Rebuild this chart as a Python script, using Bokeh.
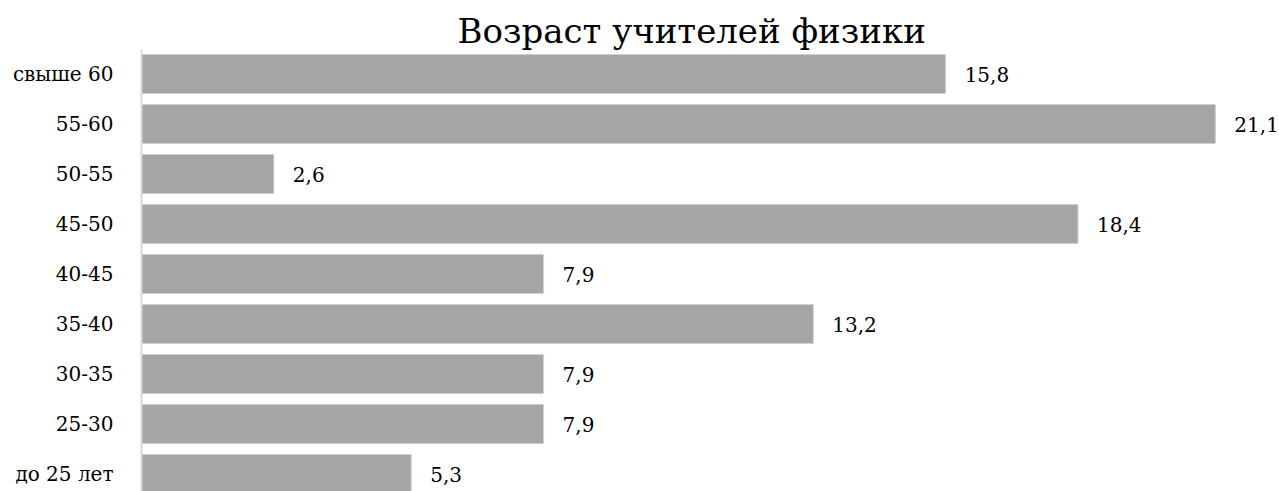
from bokeh.plotting import figure
from bokeh.models import Range1d, FixedTicker, ColumnDataSource
from bokeh.core.properties import value
from bokeh.embed import file_html
from bokeh.resources import INLINE

categories = ["до 25 лет", "25-30", "30-35", "35-40", "40-45", "45-50", "50-55", "55-60", "свыше 60"]
values = [5.3, 7.9, 7.9, 13.2, 7.9, 18.4, 2.6, 21.1, 15.8]
title_text = "Возраст учителей физики"

FONT = "DejaVu Serif"

ypos = list(range(len(categories)))
labels = [f"{v:.1f}".replace(".", ",") for v in values]
src = ColumnDataSource(dict(y=ypos, v=values, lab=labels))

p = figure(width=1279, height=491, output_backend="svg", toolbar_location=None,
           x_range=Range1d(0, 22.36), y_range=Range1d(-0.35, 8.49),
           min_border_left=141, min_border_right=0, min_border_bottom=0, min_border_top=49)

p.hbar(y="y", right="v", left=0, height=0.78, source=src,
       fill_color="#a5a5a5", line_color="#d0d0d0", line_width=1)
p.text(x="v", y="y", text="lab", source=src, x_offset=19,
       text_font=value(FONT), text_font_size="20px", text_color="#000000",
       text_baseline="middle", text_align="left")

p.title.text = title_text
p.title.align = "left"
p.title.text_font = FONT
p.title.text_font_size = "34px"
p.title.text_font_style = "normal"
p.title.text_color = "#000000"
p.title.offset = 316
p.title.standoff = -3

p.xaxis.visible = False
p.xgrid.visible = False
p.ygrid.visible = False
p.outline_line_color = None

ax = p.yaxis[0]
ax.ticker = FixedTicker(ticks=ypos)
ax.major_label_overrides = {i: c for i, c in enumerate(categories)}
ax.major_tick_line_color = None
ax.minor_tick_line_color = None
ax.axis_line_color = "#d9d9d9"
ax.axis_line_width = 2
ax.major_label_standoff = 22
ax.major_label_text_font = FONT
ax.major_label_text_font_size = "20px"
ax.major_label_text_color = "#000000"

open("out.html", "w").write(file_html(p, INLINE))
